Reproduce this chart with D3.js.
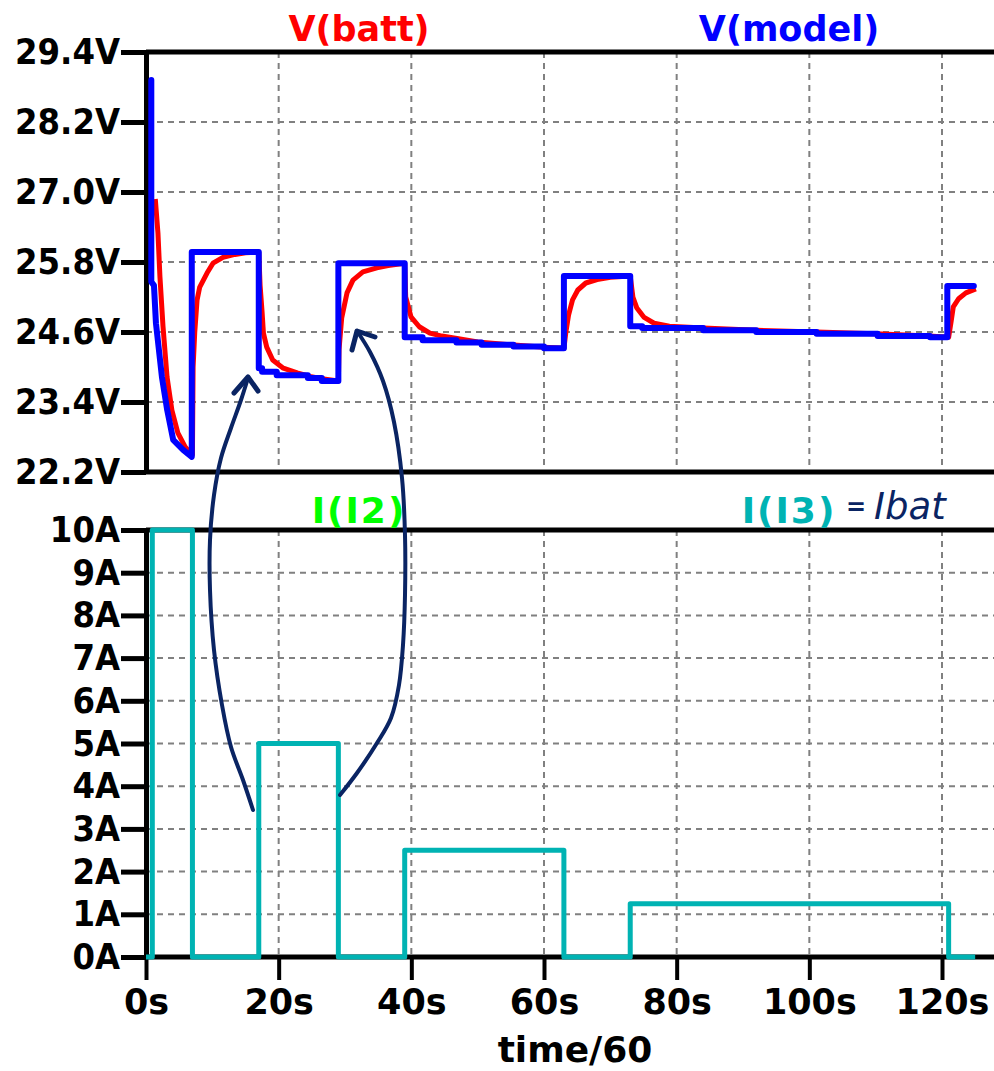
<!DOCTYPE html>
<html>
<head>
<meta charset="utf-8">
<script src="https://cdn.jsdelivr.net/npm/d3@7"></script>
<style>
  body { margin: 0; background: #fff; }
  svg text { font-family: "DejaVu Sans", sans-serif; font-weight: bold; }
</style>
</head>
<body>
<svg id="chart" width="994" height="1071"></svg>
<script>
// tick values
var xTicks = [0, 20, 40, 60, 80, 100, 120];
var vTicks = [22.2, 23.4, 24.6, 25.8, 27.0, 28.2, 29.4];
var iTicks = [0, 1, 2, 3, 4, 5, 6, 7, 8, 9, 10];

// V(model) : [time, volts]
var vModel = [
  [0.8, 28.92], [0.8, 25.46], [1.2, 25.40], [1.5, 24.75], [2.4, 23.83], [3.2, 23.26],
  [4.1, 22.75], [5.6, 22.58], [6.9, 22.46], [6.9, 25.97], [17, 25.97],
  [17, 23.98], [17.5, 23.98], [17.5, 23.92], [19.7, 23.92], [19.7, 23.86], [24.4, 23.86],
  [24.4, 23.81], [26.5, 23.81], [26.5, 23.76], [29, 23.76],
  [29, 25.78], [39, 25.78],
  [39, 24.51], [41.7, 24.51], [41.7, 24.46], [46.8, 24.46], [46.8, 24.42], [50.6, 24.42],
  [50.6, 24.38], [55.4, 24.38], [55.4, 24.35], [60, 24.35], [60, 24.32], [63, 24.32],
  [63, 25.56], [73, 25.56],
  [73, 24.70], [74.8, 24.70], [74.8, 24.67], [84, 24.67], [84, 24.63], [92, 24.63],
  [92, 24.60], [101.1, 24.60], [101.1, 24.57], [110.3, 24.57], [110.3, 24.53], [118.2, 24.53],
  [118.2, 24.51], [120.8, 24.51],
  [120.8, 25.39], [124.8, 25.39]
];

// V(batt) : [time, volts]
var vBatt = [
  [1.4, 26.88], [1.8, 26.3], [2.1, 25.55], [2.56, 24.7], [3.17, 23.83],
  [3.9, 23.26], [4.8, 22.87], [5.9, 22.63], [6.6, 22.54], [7.0, 22.5],
  [7.1, 24.0], [7.35, 24.6], [7.7, 25.15], [8.1, 25.37], [9.2, 25.61], [10.1, 25.78],
  [11.6, 25.88], [13.4, 25.93], [15, 25.96], [17, 25.97],
  [17.2, 25.4], [17.5, 24.94], [17.7, 24.58], [18.2, 24.34], [19.1, 24.12], [20.7, 23.98],
  [22.8, 23.9], [24.7, 23.84], [26.5, 23.8], [29, 23.76],
  [29.1, 24.3], [29.5, 24.84], [30.3, 25.27], [31.2, 25.49], [32.7, 25.63], [34.8, 25.70],
  [36.5, 25.74], [39, 25.78],
  [39.15, 25.2], [39.95, 24.86], [41.2, 24.69], [42.8, 24.58], [44.6, 24.53], [46.9, 24.49],
  [50, 24.43], [55, 24.38], [60, 24.34], [63, 24.32],
  [63.3, 24.6], [63.7, 24.89], [64.3, 25.15], [65.1, 25.32], [66.3, 25.44], [68.0, 25.50],
  [70, 25.54], [73, 25.56],
  [73.4, 25.2], [74.0, 25.01], [75.1, 24.85], [76.6, 24.75], [78.9, 24.70], [84, 24.67],
  [92, 24.63], [101, 24.60], [110, 24.57], [118, 24.53], [121, 24.51],
  [121.4, 24.8], [121.7, 25.03], [122.5, 25.17], [123.6, 25.27], [125.1, 25.34]
];

// I(I3) = Ibat : [time, amps]
var iBat = [
  [0, 0], [0.95, 0], [0.95, 10], [7, 10], [7, 0], [17, 0], [17, 5], [29, 5], [29, 0],
  [39, 0], [39, 2.5], [63, 2.5], [63, 0], [73, 0], [73, 1.25], [121, 1.25], [121, 0], [125, 0]
];

// hand drawn ink on the screenshot (page pixels)
var inkLeft = [[253, 810], [243, 780], [231, 747], [222, 705], [214, 650], [210, 590], [210, 540],
  [214, 495], [221, 458], [231, 428], [241, 400], [248, 378]];
var inkLeftHead = [[234, 393], [248, 377], [258, 391]];
var inkRight = [[340, 795], [357, 773], [377, 743], [391, 718], [399, 685], [403, 645], [405, 595],
  [405, 535], [402, 478], [394, 422], [383, 381], [370, 352], [357, 331]];
var inkRightHead = [[352, 350], [357, 331], [375, 337]];

var svg = d3.select('#chart');
var W = 994;
var axisX = 146;

var x = d3.scaleLinear().domain([0, 120]).range([146, 942]);
var yV = d3.scaleLinear().domain([22.2, 29.4]).range([472, 52]);
var yI = d3.scaleLinear().domain([0, 10]).range([957, 530]);

var gridColor = '#808080';

function grid(yScale, ticks, y0, y1) {
  var g = svg.append('g');
  g.selectAll('.h').data(ticks.slice(1, -1)).enter().append('line')
    .attr('x1', axisX).attr('x2', W)
    .attr('y1', function(d) { return yScale(d); })
    .attr('y2', function(d) { return yScale(d); })
    .attr('stroke', gridColor).attr('stroke-width', 2).attr('stroke-dasharray', '6,5');
  g.selectAll('.v').data(xTicks.slice(1)).enter().append('line')
    .attr('x1', function(d) { return x(d); })
    .attr('x2', function(d) { return x(d); })
    .attr('y1', y0).attr('y2', y1)
    .attr('stroke', gridColor).attr('stroke-width', 2).attr('stroke-dasharray', '6,5');
}
grid(yV, vTicks, 52, 472);
grid(yI, iTicks, 530, 957);

// frame lines
function hline(y) {
  svg.append('line').attr('x1', axisX).attr('x2', W).attr('y1', y).attr('y2', y)
    .attr('stroke', '#000').attr('stroke-width', 5);
}
hline(yV(29.4)); hline(yV(22.2)); hline(yI(10)); hline(yI(0));

function styleAxis(g) {
  g.select('.domain').attr('stroke', '#000').attr('stroke-width', 5);
  g.selectAll('.tick line').attr('stroke', '#000').attr('stroke-width', 5);
  g.selectAll('.tick text').attr('fill', '#000');
}

var axV = svg.append('g').attr('transform', 'translate(' + axisX + ',0)')
  .call(d3.axisLeft(yV).tickValues(vTicks).tickSize(25).tickSizeOuter(0).tickPadding(1)
    .tickFormat(function(d) { return d.toFixed(1) + 'V'; }));
styleAxis(axV);
axV.selectAll('.tick text').style('font-family', '"DejaVu Sans Condensed", "DejaVu Sans", sans-serif')
  .attr('font-size', 36);

var axI = svg.append('g').attr('transform', 'translate(' + axisX + ',0)')
  .call(d3.axisLeft(yI).tickValues(iTicks).tickSize(25).tickSizeOuter(0).tickPadding(1)
    .tickFormat(function(d) { return d + 'A'; }));
styleAxis(axI);
axI.selectAll('.tick text').style('font-family', '"DejaVu Sans Condensed", "DejaVu Sans", sans-serif')
  .attr('font-size', 36);

var axX = svg.append('g').attr('transform', 'translate(0,' + yI(0) + ')')
  .call(d3.axisBottom(x).tickValues(xTicks).tickSize(23).tickSizeOuter(0).tickPadding(9)
    .tickFormat(function(d) { return d + 's'; }));
styleAxis(axX);
axX.select('.domain').remove();
axX.selectAll('.tick line').attr('stroke-width', 4);
axX.selectAll('.tick text').attr('font-size', 35);

svg.append('text').attr('x', 575).attr('y', 1062).attr('text-anchor', 'middle')
  .attr('font-size', 36).attr('fill', '#000').text('time/60');

// traces
var lineV = d3.line().x(function(d) { return x(d[0]); }).y(function(d) { return yV(d[1]); });
var lineI = d3.line().x(function(d) { return x(d[0]); }).y(function(d) { return yI(d[1]); });

svg.append('path').attr('d', lineV(vBatt)).attr('fill', 'none')
  .attr('stroke', '#ff0000').attr('stroke-width', 5).attr('stroke-linejoin', 'round');
svg.append('path').attr('d', lineV(vModel)).attr('fill', 'none')
  .attr('stroke', '#0000ff').attr('stroke-width', 6).attr('stroke-linejoin', 'round')
  .attr('stroke-linecap', 'round');
svg.append('path').attr('d', lineI(iBat)).attr('fill', 'none')
  .attr('stroke', '#00b3b3').attr('stroke-width', 5).attr('stroke-linejoin', 'round');

// trace names
svg.append('text').attr('x', 359).attr('y', 41).attr('text-anchor', 'middle')
  .attr('font-size', 35).attr('fill', '#ff0000').text('V(batt)');
svg.append('text').attr('x', 789).attr('y', 41).attr('text-anchor', 'middle')
  .attr('font-size', 35).attr('fill', '#0000ff').text('V(model)');
svg.append('text').attr('x', 359).attr('y', 523).attr('text-anchor', 'middle')
  .attr('font-size', 36).attr('letter-spacing', 2).attr('fill', '#00ff00').text('I(I2)');
svg.append('text').attr('x', 789).attr('y', 523).attr('text-anchor', 'middle')
  .attr('font-size', 36).attr('letter-spacing', 2).attr('fill', '#00b3b3').text('I(I3)');

// handwritten notes
var ink = '#0a2463';
var inkLine = d3.line().curve(d3.curveCatmullRom);
[inkLeft, inkRight].forEach(function(p) {
  svg.append('path').attr('d', inkLine(p)).attr('fill', 'none').attr('stroke', ink)
    .attr('stroke-width', 4).attr('stroke-linecap', 'round');
});
[inkLeftHead, inkRightHead].forEach(function(p) {
  svg.append('path').attr('d', d3.line()(p)).attr('fill', 'none').attr('stroke', ink)
    .attr('stroke-width', 5).attr('stroke-linecap', 'round').attr('stroke-linejoin', 'round');
});
var note = svg.append('text').attr('x', 846).attr('y', 519).attr('fill', ink)
  .style('font-weight', 'normal').style('font-style', 'italic');
note.append('tspan').attr('font-size', 24).attr('font-weight', 'bold').attr('dy', -4).text('=');
note.append('tspan').attr('font-size', 37).attr('dx', 8).attr('dy', 4).text('Ibat');
</script>
</body>
</html>
